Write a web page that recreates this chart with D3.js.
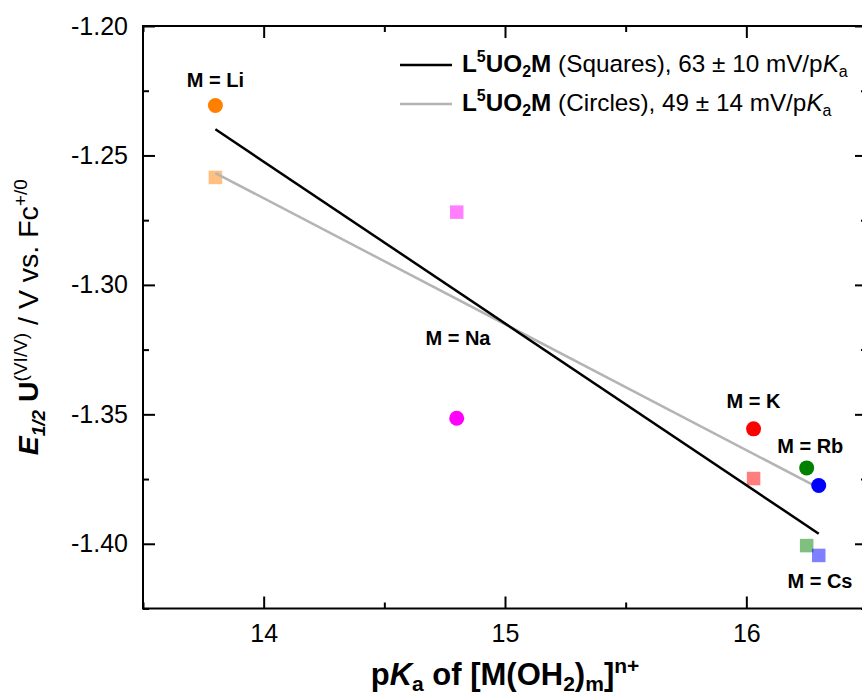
<!DOCTYPE html>
<html>
<head>
<meta charset="utf-8">
<script src="https://cdn.jsdelivr.net/npm/d3@7"></script>
<style>
  body { margin: 0; background: #fff; }
  svg { font-family: "Liberation Sans", Arial, sans-serif; }
  .axis path, .axis line { stroke: #000; stroke-width: 2; }
  .axis text { font-size: 25px; fill: #000; font-family: "Liberation Sans", Arial, sans-serif; }
  .lab { font-size: 20px; font-weight: bold; }
</style>
</head>
<body>
<div id="chart"></div>
<script>
// data
var metals = ["Li", "Na", "K", "Rb", "Cs"];
var pKa = [13.80, 14.80, 16.03, 16.25, 16.30];
var circleE = [-1.2307, -1.3515, -1.3556, -1.3707, -1.3775];
var squareE = [-1.2585, -1.2719, -1.3748, -1.4007, -1.4045];
var colors = ["#ff8000", "#ff00ff", "#ff0000", "#008000", "#0000ff"];

// linear fits (end points)
var fitX = [13.80, 16.30];
var fitSquares = [-1.2399, -1.3961];
var fitCircles = [-1.2568, -1.3784];

// annotation anchor points (data units)
var labelX = [13.80, 14.805, 16.03, 16.265, 16.305];
var labelY = [-1.2236, -1.3232, -1.3474, -1.3650, -1.4171];

var xMajor = [14, 15, 16], xMinor = [13.5, 14.5, 15.5, 16.5];
var yMajor = [-1.20, -1.25, -1.30, -1.35, -1.40];
var yMinor = [-1.225, -1.275, -1.325, -1.375, -1.425];

var width = 862, height = 698;
var pLeft = 143, pRight = 867, pTop = 26, pBottom = 608.5;

var xScale = d3.scaleLinear().domain([13.5, 16.5]).range([pLeft, pRight]);
var yScale = d3.scaleLinear().domain([-1.425, -1.20]).range([pBottom, pTop]);

var svg = d3.select("#chart").append("svg")
    .attr("width", width)
    .attr("height", height);

// frame
svg.append("rect")
    .attr("x", pLeft).attr("y", pTop)
    .attr("width", pRight - pLeft).attr("height", pBottom - pTop)
    .attr("fill", "none").attr("stroke", "#000").attr("stroke-width", 2);

function noDomain(g) { g.select(".domain").remove(); }

// bottom axis
svg.append("g").attr("class", "axis")
    .attr("transform", "translate(0," + pBottom + ")")
    .call(d3.axisBottom(xScale).tickValues(xMajor).tickSize(-12).tickPadding(16).tickFormat(d3.format("d")))
    .call(noDomain);
svg.append("g").attr("class", "axis")
    .attr("transform", "translate(0," + pBottom + ")")
    .call(d3.axisBottom(xScale).tickValues(xMinor).tickSize(-6).tickFormat(""))
    .call(noDomain);
// top axis
svg.append("g").attr("class", "axis")
    .attr("transform", "translate(0," + pTop + ")")
    .call(d3.axisTop(xScale).tickValues(xMajor).tickSize(-12).tickFormat(""))
    .call(noDomain);
svg.append("g").attr("class", "axis")
    .attr("transform", "translate(0," + pTop + ")")
    .call(d3.axisTop(xScale).tickValues(xMinor).tickSize(-6).tickFormat(""))
    .call(noDomain);

// left axis
svg.append("g").attr("class", "axis")
    .attr("transform", "translate(" + pLeft + ",0)")
    .call(d3.axisLeft(yScale).tickValues(yMajor).tickSize(-12).tickPadding(15).tickFormat(d3.format(".2f")))
    .call(noDomain);
svg.append("g").attr("class", "axis")
    .attr("transform", "translate(" + pLeft + ",0)")
    .call(d3.axisLeft(yScale).tickValues(yMinor).tickSize(-6).tickFormat(""))
    .call(noDomain);
// right axis
svg.append("g").attr("class", "axis")
    .attr("transform", "translate(" + pRight + ",0)")
    .call(d3.axisRight(yScale).tickValues(yMajor).tickSize(-12).tickFormat(""))
    .call(noDomain);
svg.append("g").attr("class", "axis")
    .attr("transform", "translate(" + pRight + ",0)")
    .call(d3.axisRight(yScale).tickValues(yMinor).tickSize(-6).tickFormat(""))
    .call(noDomain);

// plain hyphen minus like the original
svg.selectAll(".axis text").text(function() { return this.textContent.replace("\u2212", "-"); });

var pts = metals.map(function(m, i) {
  return {name: m, x: pKa[i], c: circleE[i], s: squareE[i], color: colors[i], lx: labelX[i], ly: labelY[i]};
});

// squares
var sq = 13.5;
svg.append("g").selectAll("rect")
    .data(pts).enter().append("rect")
    .attr("x", function(d) { return xScale(d.x) - sq / 2; })
    .attr("y", function(d) { return yScale(d.s) - sq / 2; })
    .attr("width", sq).attr("height", sq)
    .attr("fill", function(d) { return d.color; })
    .attr("fill-opacity", 0.5);

// fit lines
var line = d3.line().x(function(d) { return xScale(d[0]); }).y(function(d) { return yScale(d[1]); });
svg.append("path")
    .datum(fitX.map(function(v, i) { return [v, fitCircles[i]]; }))
    .attr("d", line).attr("fill", "none").attr("stroke", "#b4b4b4").attr("stroke-width", 2.5);
svg.append("path")
    .datum(fitX.map(function(v, i) { return [v, fitSquares[i]]; }))
    .attr("d", line).attr("fill", "none").attr("stroke", "#000").attr("stroke-width", 2.5);

// circles
svg.append("g").selectAll("circle")
    .data(pts).enter().append("circle")
    .attr("cx", function(d) { return xScale(d.x); })
    .attr("cy", function(d) { return yScale(d.c); })
    .attr("r", 7.5)
    .attr("fill", function(d) { return d.color; });

// labels
svg.append("g").selectAll("text")
    .data(pts).enter().append("text")
    .attr("class", "lab")
    .attr("x", function(d) { return xScale(d.lx); })
    .attr("y", function(d) { return yScale(d.ly); })
    .attr("text-anchor", "middle")
    .text(function(d) { return "M = " + d.name; });

// legend
function legendText(t, y, label, value) {
  t.attr("x", 462).attr("y", y).attr("font-size", 24.3);
  t.append("tspan").attr("font-weight", "bold").text("L");
  t.append("tspan").attr("font-weight", "bold").attr("font-size", 16).attr("dy", -10).text("5");
  t.append("tspan").attr("font-weight", "bold").attr("dy", 10).text("UO");
  t.append("tspan").attr("font-weight", "bold").attr("font-size", 16).attr("dy", 5).text("2");
  t.append("tspan").attr("font-weight", "bold").attr("dy", -5).text("M");
  t.append("tspan").text(" (" + label + "), " + value + " mV/p");
  t.append("tspan").attr("font-style", "italic").text("K");
  t.append("tspan").attr("font-size", 16).attr("dy", 5).text("a");
}
svg.append("line").attr("x1", 400).attr("x2", 452).attr("y1", 65).attr("y2", 65)
    .attr("stroke", "#000").attr("stroke-width", 2.5);
svg.append("line").attr("x1", 400).attr("x2", 452).attr("y1", 104).attr("y2", 104)
    .attr("stroke", "#b4b4b4").attr("stroke-width", 2.5);
legendText(svg.append("text"), 72, "Squares", "63 \u00b1 10");
legendText(svg.append("text"), 111, "Circles", "49 \u00b1 14");

// x title
var xt = svg.append("text")
    .attr("x", 505).attr("y", 685)
    .attr("text-anchor", "middle").attr("font-size", 31).attr("font-weight", "bold");
xt.append("tspan").text("p");
xt.append("tspan").attr("font-style", "italic").text("K");
xt.append("tspan").attr("font-size", 21).attr("dy", 6).text("a");
xt.append("tspan").attr("dy", -6).text(" of [M(OH");
xt.append("tspan").attr("font-size", 21).attr("dy", 6).text("2");
xt.append("tspan").attr("dy", -6).text(")");
xt.append("tspan").attr("font-size", 21).attr("dy", 6).text("m");
xt.append("tspan").attr("dy", -6).text("]");
xt.append("tspan").attr("font-size", 21).attr("dy", -12).text("n+");

// y title
var yt = svg.append("text")
    .attr("transform", "translate(38," + ((pTop + pBottom) / 2) + ") rotate(-90)")
    .attr("text-anchor", "middle").attr("font-size", 28.5);
yt.append("tspan").attr("font-weight", "bold").attr("font-style", "italic").text("E");
yt.append("tspan").attr("font-weight", "bold").attr("font-style", "italic").attr("font-size", 19).attr("dy", 7).text("1/2");
yt.append("tspan").attr("font-weight", "bold").attr("dy", -7).text(" U");
yt.append("tspan").attr("font-size", 19).attr("dy", -11).text("(VI/V)");
yt.append("tspan").attr("dy", 11).text(" / V vs. Fc");
yt.append("tspan").attr("font-size", 19).attr("dy", -11).text("+/0");
</script>
</body>
</html>
